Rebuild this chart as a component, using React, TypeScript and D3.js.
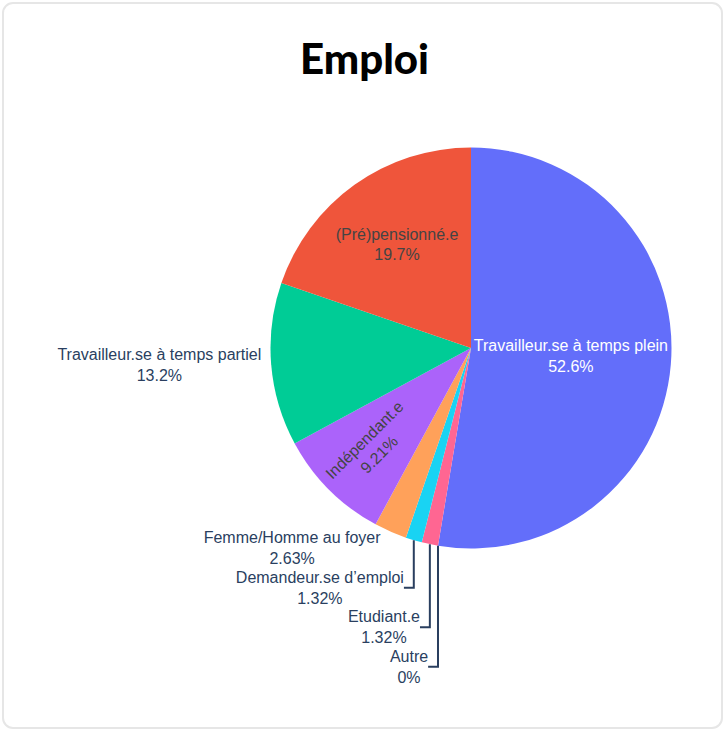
import React from "react";
import * as d3 from "d3";

const categories = [
  "Travailleur.se à temps plein",
  "Autre",
  "Etudiant.e",
  "Demandeur.se d’emploi",
  "Femme/Homme au foyer",
  "Indépendant.e",
  "Travailleur.se à temps partiel",
  "(Pré)pensionné.e",
];
const counts = [40, 0, 1, 1, 2, 7, 10, 15];
const colors = ["#636efa", "#B6E880", "#FF6692", "#19d3f3", "#FFA15A", "#ab63fa", "#00cc96", "#EF553B"];
// text placement mode per slice
const textModes = ["inside", "outside", "outside", "outside", "outside", "radial", "outside", "inside"];
const insideRadiusFactor = [0.5, 0, 0, 0, 0, 0.7, 0, 0.635];
const insideTextColor = ["#ffffff", "#444", "#444", "#444", "#444", "#444", "#444", "#444"];

const W = 725;
const H = 729;
const CX = 471;
const CY = 348;
const R = 200.5;
const FS = 16;
const LH = FS * 1.3;
const BOX_H = 39.5;
const OUT_COLOR = "#2a3f5f";
const FONT = "'Liberation Sans', Arial, sans-serif";

export default function App() {
  const total = d3.sum(counts);
  const pct = (v: number) => d3.format(".3~r")((v / total) * 100) + "%";
  const pie = d3.pie<number>().sort(null).value((d) => d)(counts);
  const arc = d3.arc<d3.PieArcDatum<number>>().innerRadius(0).outerRadius(R);

  const measure = (s: string) => {
    if (typeof document === "undefined") return s.length * 8;
    const c = document.createElement("canvas").getContext("2d")!;
    c.font = `${FS}px 'Liberation Sans', Arial, sans-serif`;
    return c.measureText(s).width;
  };

  type OL = { i: number; px: number; py: number; x: number; y: number; w: number; moved: boolean; right: boolean };
  const outs: OL[] = [];
  pie.forEach((p, i) => {
    if (textModes[i] !== "outside") return;
    const mid = (p.startAngle + p.endAngle) / 2;
    const px = R * Math.sin(mid);
    const py = -R * Math.cos(mid);
    const w = Math.max(measure(categories[i]), measure(pct(counts[i])));
    const dxs = px < 0 ? -1 : 1;
    const dys = py < 0 ? -1 : 1;
    const x = dxs * (w / 2 + BOX_H / 4);
    const y = (dys * BOX_H / 2) / (1 + (px * px) / (py * py || 1e-9));
    outs.push({ i, px, py, x: px + x, y: py + y, w, moved: false, right: px >= 0 });
  });
  const bl = outs.filter((o) => !o.right && o.py > 0).sort((a, b) => {
    const ma = (pie[a.i].startAngle + pie[a.i].endAngle) / 2;
    const mb = (pie[b.i].startAngle + pie[b.i].endAngle) / 2;
    return mb - ma;
  });
  for (let k = 1; k < bl.length; k++) {
    const prev = bl[k - 1];
    const cur = bl[k];
    if (cur.y < prev.y + BOX_H) {
      cur.y = prev.y + BOX_H;
      cur.moved = true;
    }
  }

  const twoLines = (x: number, y: number, a: string, b: string, fill: string, transform?: string) => (
    <text
      transform={transform}
      x={transform ? 0 : x}
      y={transform ? 0 : y}
      textAnchor="middle"
      fontFamily={FONT}
      fontSize={FS}
      fill={fill}
    >
      <tspan x={transform ? 0 : x} y={(transform ? 0 : y) - LH / 2 + 0.35 * FS}>{a}</tspan>
      <tspan x={transform ? 0 : x} y={(transform ? 0 : y) + LH / 2 + 0.35 * FS}>{b}</tspan>
    </text>
  );

  return (
    <svg width={W} height={H} style={{ position: "absolute", left: 0, top: 0, background: "#fff" }}>
      <rect x={3} y={3} width={719} height={725} rx={10} ry={10} fill="#fff" stroke="#e6e6e6" strokeWidth={2} />
      <text x={364.5} y={74} textAnchor="middle" fontFamily="Lato, 'Open Sans', sans-serif" fontWeight={900} fontSize={42} fill="#000">
        Emploi
      </text>
      <g transform={`translate(${CX},${CY})`}>
        {pie.map((p, i) => (
          <path key={i} d={arc(p) || ""} fill={colors[i]} />
        ))}
        {pie.map((p, i) => {
          const mid = (p.startAngle + p.endAngle) / 2;
          if (textModes[i] === "inside") {
            const r = R * insideRadiusFactor[i];
            return <g key={"t" + i}>{twoLines(r * Math.sin(mid), -r * Math.cos(mid), categories[i], pct(counts[i]), insideTextColor[i])}</g>;
          }
          if (textModes[i] === "radial") {
            const r = R * insideRadiusFactor[i];
            let rot = (mid * 180) / Math.PI - 90;
            if (rot > 90) rot -= 180;
            const tx = r * Math.sin(mid);
            const ty = -r * Math.cos(mid);
            return <g key={"t" + i}>{twoLines(0, 0, categories[i], pct(counts[i]), insideTextColor[i], `translate(${tx},${ty}) rotate(${rot})`)}</g>;
          }
          return null;
        })}
        {outs.map((o) => (
          <g key={"o" + o.i}>
            {o.moved && (
              <path
                d={`M${o.px},${o.py}V${o.y}H${o.x + (o.right ? -1 : 1) * (o.w / 2)}`}
                fill="none"
                stroke={OUT_COLOR}
                strokeWidth={2}
              />
            )}
            {twoLines(o.x, o.y, categories[o.i], pct(counts[o.i]), OUT_COLOR)}
          </g>
        ))}
      </g>
    </svg>
  );
}
